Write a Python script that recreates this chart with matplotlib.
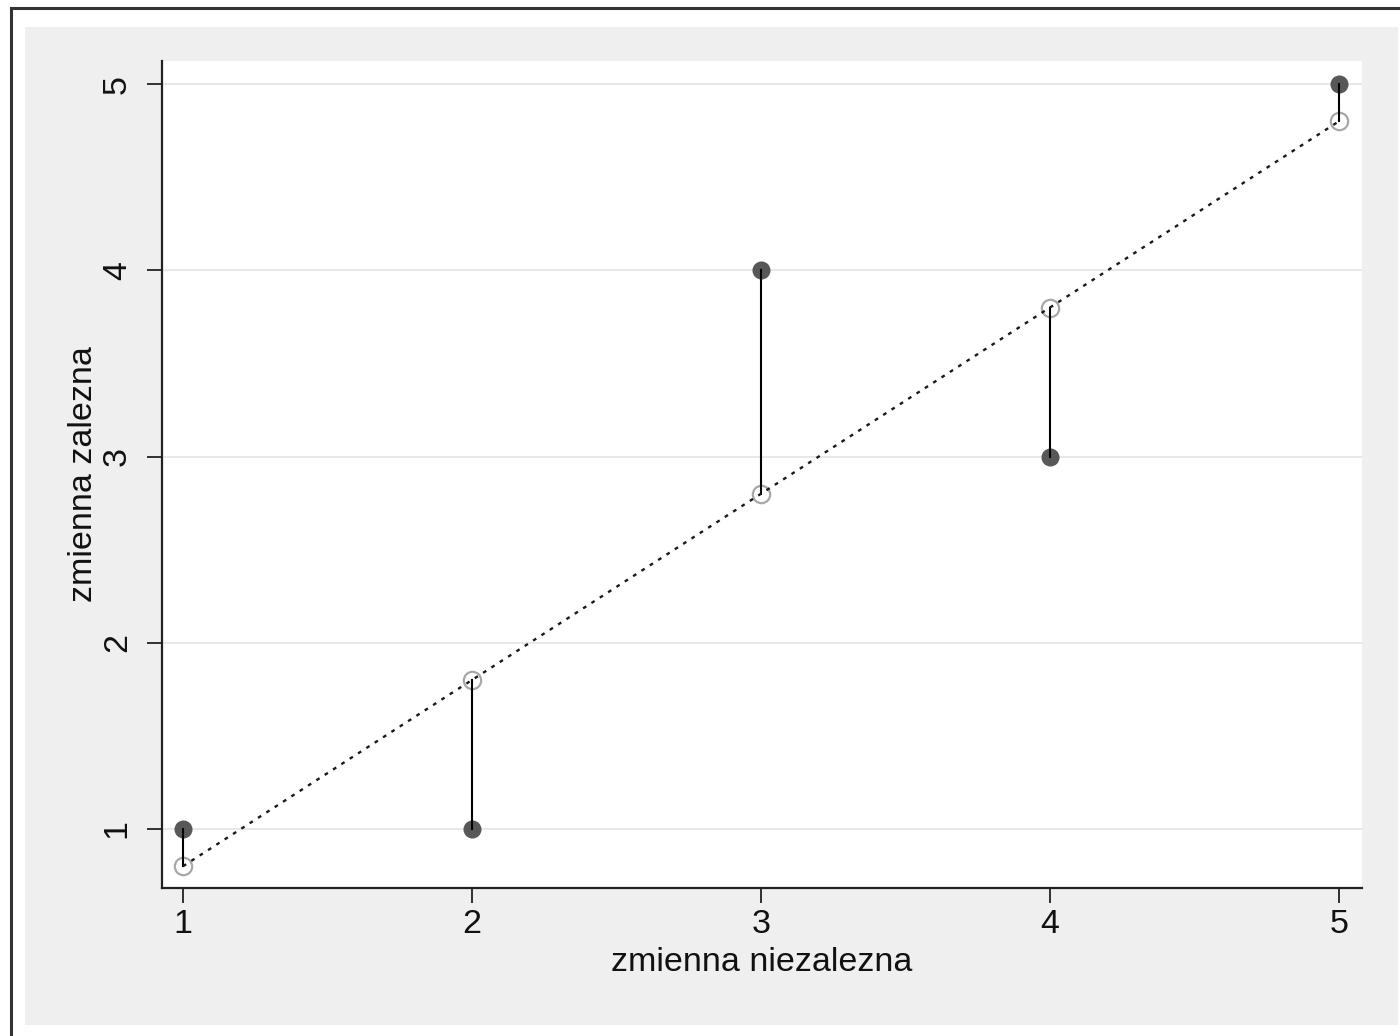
import matplotlib
matplotlib.use("Agg")
import matplotlib.pyplot as plt
from matplotlib.patches import Rectangle
from matplotlib.lines import Line2D

x_vals = [1, 2, 3, 4, 5]
y_obs = [1, 1, 4, 3, 5]
y_fit = [0.8, 1.8, 2.8, 3.8, 4.8]
x_ticks = [1, 2, 3, 4, 5]
y_ticks = [1, 2, 3, 4, 5]
x_label = "zmienna niezalezna"
y_label = "zmienna zalezna"

plt.rcParams['font.family'] = ['Liberation Sans', 'DejaVu Sans']

W, H = 1400, 1036
fig = plt.figure(figsize=(W / 100, H / 100), dpi=100)
fig.patch.set_facecolor('white')

# gray background panel
fig.patches.append(Rectangle((25 / W, 1 - 1025 / H), 1373 / W, 998 / H,
                             transform=fig.transFigure, facecolor='#efefef',
                             edgecolor='none', zorder=-5))
# outer border (left and top visible)
fig.lines.append(Line2D([10.5 / W, 10.5 / W], [0, 1 - 8 / H], transform=fig.transFigure,
                        color='#333333', lw=2.2, zorder=-4))
fig.lines.append(Line2D([10.5 / W, 1], [1 - 8 / H, 1 - 8 / H], transform=fig.transFigure,
                        color='#333333', lw=2.2, zorder=-4))

ax = fig.add_axes([162 / W, 1 - 888 / H, 1200 / W, 827 / H])
ax.set_zorder(1)
ax.set_facecolor('white')

for yt in y_ticks:
    ax.axhline(yt, color='#e6e6e6', lw=1.3, zorder=1)

ax.plot(x_vals, y_obs, 'o', color='#585858', markersize=13, markeredgewidth=0, zorder=3)
ax.plot(x_vals, y_fit, 'o', markerfacecolor='none', markeredgecolor='#a8a8a8',
        markersize=12.5, markeredgewidth=1.6, zorder=2)

# vertical residual lines
for xv, yo, yf in zip(x_vals, y_obs, y_fit):
    ax.plot([xv, xv], [yo, yf], color='black', lw=1.5, zorder=4)

ax.plot(x_vals, y_fit, color='#1a1a1a', lw=1.7, linestyle=(0, (1.6, 2.6)), zorder=4)

ax.set_xlim(1 - 21 / 289, 5 + 23 / 289)
ax.set_ylim(1 - 59 / 186.25, 5 + 23 / 186.25)

ax.set_xticks(x_ticks)
ax.set_yticks(y_ticks)
ax.set_xticklabels([str(t) for t in x_ticks])
ax.set_yticklabels([str(t) for t in y_ticks], rotation=90, va='center')

for s in ['top', 'right']:
    ax.spines[s].set_visible(False)
for s in ['left', 'bottom']:
    ax.spines[s].set_linewidth(1.6)
    ax.spines[s].set_color('#222222')

ax.tick_params(axis='both', length=11, width=1.3, color='#222222', labelsize=24.5, labelcolor='#111111')
ax.tick_params(axis='y', pad=10)
ax.tick_params(axis='x', pad=4)

ax.set_xlabel(x_label, fontsize=24.5, color='#111111', labelpad=5)
ax.set_ylabel(y_label, fontsize=24.5, color='#111111', labelpad=2)

fig.savefig('out.png', dpi=100, facecolor='white')
